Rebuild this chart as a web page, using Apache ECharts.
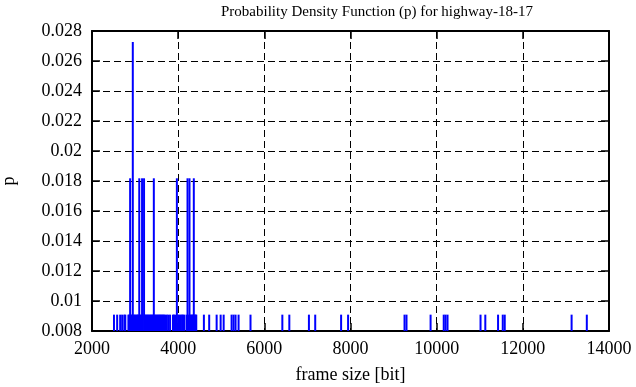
<!DOCTYPE html>
<html>
<head>
<meta charset="utf-8">
<script src="https://cdn.jsdelivr.net/npm/echarts@6/dist/echarts.min.js"></script>
<style>
html,body{margin:0;padding:0;background:#fff;}
#chart{width:636px;height:387px;}
</style>
</head>
<body>
<div id="chart"></div>
<script>
// frame sizes [bit] and their probability
const frameSizes = [
  2510, 2584, 2654, 2700, 2750, 2773,
  2845, 2862, 2885, 2901, 2925, 2947, 2968, 2990, 3012, 3040, 3061, 3075, 3097, 3118, 3139, 3162, 3180, 3208,
  3230, 3252, 3274, 3298, 3320, 3345, 3368, 3392, 3415, 3435, 3460, 3482, 3506, 3530, 3555, 3578, 3600, 3624,
  3648, 3672, 3700, 3735, 3770, 3812,
  3880, 3905, 3935, 3970, 4000, 4030, 4060, 4090, 4115, 4145,
  4200, 4217, 4240, 4263, 4285, 4305, 4330, 4345, 4363, 4385, 4405, 4420,
  4597, 4720, 4893, 4986, 5056, 5240, 5286, 5332, 5402, 5679, 6418, 6580, 7035, 7181, 7782, 7944,
  9254, 9300, 9859, 10164, 10206, 10252, 11018, 11129, 11425, 11534, 11580, 13132, 13485
];
const probs = [
  0.00909, 0.00909, 0.00909, 0.00909, 0.00909, 0.00909,
  0.00909, 0.00909, 0.01818, 0.00909, 0.00909, 0.02727, 0.00909, 0.00909, 0.00909, 0.00909, 0.00909, 0.00909, 0.01818, 0.00909, 0.00909, 0.01818, 0.00909, 0.01818,
  0.00909, 0.00909, 0.00909, 0.00909, 0.00909, 0.00909, 0.00909, 0.00909, 0.00909, 0.01818, 0.00909, 0.00909, 0.00909, 0.00909, 0.00909, 0.00909, 0.00909, 0.00909,
  0.00909, 0.00909, 0.00909, 0.00909, 0.00909, 0.00909,
  0.00909, 0.00909, 0.00909, 0.01818, 0.00909, 0.00909, 0.00909, 0.00909, 0.00909, 0.00909,
  0.00909, 0.01818, 0.00909, 0.01818, 0.00909, 0.00909, 0.00909, 0.00909, 0.01818, 0.00909, 0.00909, 0.00909,
  0.00909, 0.00909, 0.00909, 0.00909, 0.00909, 0.00909, 0.00909, 0.00909, 0.00909, 0.00909, 0.00909, 0.00909, 0.00909, 0.00909, 0.00909, 0.00909,
  0.00909, 0.00909, 0.00909, 0.00909, 0.00909, 0.00909, 0.00909, 0.00909, 0.00909, 0.00909, 0.00909, 0.00909, 0.00909
];
const xTicks = [2000, 4000, 6000, 8000, 10000, 12000, 14000];
const yTickLabels = ['0.008','0.01','0.012','0.014','0.016','0.018','0.02','0.022','0.024','0.026','0.028'];

const FONT = '"Liberation Serif", "DejaVu Serif", serif';
const chart = echarts.init(document.getElementById('chart'), null, {renderer: 'canvas'});
const data = frameSizes.map((x, i) => [x, probs[i]]);
const lineStyle = {color: '#000', width: 2};
const gridLine = {show: true, lineStyle: {color: '#000', width: 1, type: [7, 4]}};
const tick = {show: true, inside: true, length: 8, lineStyle: {color: '#000', width: 1.5}};

chart.setOption({
  animation: false,
  backgroundColor: '#fff',
  title: {
    text: 'Probability Density Function (p) for highway-18-17',
    left: 372, top: 0, textAlign: 'center',
    textStyle: {fontFamily: FONT, fontSize: 15, fontWeight: 'normal', color: '#000'}
  },
  grid: {left: 92, right: 27, top: 31, bottom: 56, outerBoundsMode: 'none', containLabel: false},
  xAxis: [{
    type: 'value', min: xTicks[0], max: xTicks[xTicks.length - 1], interval: 2000,
    name: 'frame size [bit]', nameLocation: 'middle', nameGap: 35,
    nameTextStyle: {fontFamily: FONT, fontSize: 18, color: '#000'},
    axisLine: {show: true, onZero: false, lineStyle: lineStyle},
    axisTick: tick,
    axisLabel: {fontFamily: FONT, fontSize: 18, color: '#000', margin: 9, showMinLabel: true, showMaxLabel: true,
      formatter: function (v) { return String(v); }},
    splitLine: gridLine
  }, {
    type: 'value', position: 'top', min: xTicks[0], max: xTicks[xTicks.length - 1], interval: 2000,
    axisLine: {show: true, onZero: false, lineStyle: lineStyle},
    axisTick: tick, axisLabel: {show: false}, splitLine: {show: false}
  }],
  yAxis: [{
    type: 'value', min: 0.008, max: 0.028, interval: 0.002,
    name: 'p', nameLocation: 'middle', nameGap: 74, nameRotate: 90,
    nameTextStyle: {fontFamily: FONT, fontSize: 18, color: '#000'},
    axisLine: {show: true, onZero: false, lineStyle: lineStyle},
    axisTick: tick,
    axisLabel: {
      fontFamily: FONT, fontSize: 18, color: '#000', margin: 10,
      formatter: function (v) {
        const idx = Math.round((v - 0.008) / 0.002);
        return yTickLabels[idx] !== undefined ? yTickLabels[idx] : '';
      }
    },
    splitLine: gridLine
  }, {
    type: 'value', position: 'right', min: 0.008, max: 0.028, interval: 0.002,
    axisLine: {show: true, onZero: false, lineStyle: lineStyle},
    axisTick: tick, axisLabel: {show: false}, splitLine: {show: false}
  }],
  series: [{
    type: 'bar',
    data: data,
    barWidth: 2,
    xAxisIndex: 0, yAxisIndex: 0,
    itemStyle: {color: '#0000ff'},
    clip: true,
    z: 3
  }]
});
</script>
</body>
</html>
